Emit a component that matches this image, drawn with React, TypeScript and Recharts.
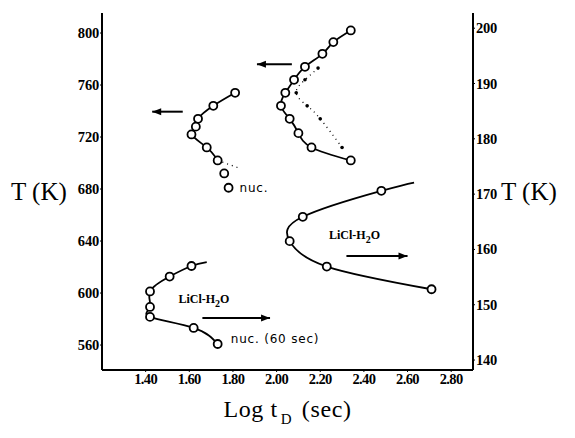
import React from 'react';
import { ComposedChart, Line, Scatter, XAxis, YAxis, ReferenceLine, ReferenceDot } from 'recharts';

// axis ticks
const xTicks = [1.4, 1.6, 1.8, 2.0, 2.2, 2.4, 2.6, 2.8];
const leftTicks = [560, 600, 640, 680, 720, 760, 800];
const rightTicks = [140, 150, 160, 170, 180, 190, 200];

// upper outer curve (left axis, K)
const outerLog = [2.34, 2.26, 2.21, 2.13, 2.08, 2.04, 2.02, 2.06, 2.1, 2.16, 2.34];
const outerT = [802, 793, 784, 774, 764, 754, 744, 734, 723, 712, 702];

// filled dots along the dotted branch
const dotLog = [2.19, 2.13, 2.09, 2.14, 2.2, 2.3];
const dotT = [773, 764, 754, 744, 734, 712];

// upper inner curve (left axis, K); last two points not joined
const innerLog = [1.81, 1.71, 1.64, 1.63, 1.61, 1.68, 1.73, 1.76, 1.78];
const innerT = [754, 744, 734, 728, 722, 712, 702, 692, 681];
const innerTail = { x: 1.83, t: 696 };

// LiCl-H2O, right-hand curve (right axis, K)
const saltRLog = [2.48, 2.12, 2.06, 2.23, 2.71];
const saltRT = [170.6, 165.9, 161.5, 156.9, 152.8];
const saltRHead = { x: 2.63, t: 172.1 };

// LiCl-H2O, left-hand curve (right axis, K)
const saltLLog = [1.61, 1.51, 1.42, 1.42, 1.42, 1.62, 1.73];
const saltLT = [157.0, 155.1, 152.4, 149.6, 147.8, 145.8, 142.9];
const saltLHead = { x: 1.68, t: 157.7 };

const arrows = [
  { axis: 'left', x1: 1.57, x2: 1.43, t: 739.5 },
  { axis: 'left', x1: 2.07, x2: 1.91, t: 776 },
  { axis: 'right', x1: 2.32, x2: 2.6, t: 158.8 },
  { axis: 'right', x1: 1.66, x2: 1.97, t: 147.6 },
];

const pts = (xs: number[], ts: number[]) => xs.map((x, i) => ({ x, t: ts[i] }));

const outer = pts(outerLog, outerT);
const dots = pts(dotLog, dotT);
const inner = pts(innerLog, innerT);
const saltR = pts(saltRLog, saltRT);
const saltL = pts(saltLLog, saltLT);

const serif = '"Liberation Serif", "DejaVu Serif", serif';
const hand = '"DejaVu Sans", sans-serif';

// bold serif tick text, anchored per axis side
const Tick = (side: 'left' | 'right' | 'bottom', fmt?: (v: number) => string) => (p: any) => {
  const v = p.payload.value;
  const label = fmt ? fmt(v) : String(v);
  const anchor = side === 'left' ? 'end' : side === 'right' ? 'start' : 'middle';
  const dy = side === 'bottom' ? 9.5 : 5;
  return (
    <text
      x={p.x}
      y={p.y + dy}
      textAnchor={anchor}
      fontSize={14.5}
      fontWeight="bold"
      fontFamily={serif}
      letterSpacing={side === 'bottom' ? -0.6 : -0.2}
      fill="#000"
    >
      {label}
    </text>
  );
};

const OpenCircle = (p: any) => (
  <circle cx={p.cx} cy={p.cy} r={4} fill="#fff" stroke="#000" strokeWidth={1.8} />
);
const SmallDot = (p: any) => <circle cx={p.cx} cy={p.cy} r={1.8} fill="#000" />;

const arrowHead = (dir: number) => (p: any) => (
  <path
    d={`M${p.cx},${p.cy} L${p.cx - dir * 9},${p.cy - 3.5} L${p.cx - dir * 9},${p.cy + 3.5} Z`}
    fill="#000"
  />
);

const note = (text: string, size: number) => (p: any) => (
  <text x={p.cx} y={p.cy + 4} fontSize={size} fontFamily={hand} fill="#000" letterSpacing={0.8}>
    {text}
  </text>
);

const saltLabel = (p: any) => (
  <text x={p.cx} y={p.cy + 4} fontSize={12} fontWeight="bold" fontFamily={serif} fill="#000">
    LiCl-H<tspan dy={4} fontSize={10}>2</tspan>
    <tspan dy={-4}>O</tspan>
  </text>
);

const XLabel = (props: any) => {
  const { x, y, width } = props.viewBox;
  return (
    <text
      x={x + width / 2}
      y={y + 47}
      textAnchor="middle"
      fontSize={24}
      fontFamily={serif}
      letterSpacing={0.6}
      fill="#000"
    >
      Log t<tspan dx={3} dy={7} fontSize={15}>D</tspan>
      <tspan dx={3} dy={-7}> (sec)</tspan>
    </text>
  );
};

export default function App() {
  return (
    <div style={{ position: 'absolute', left: 0, top: 0, background: '#fff', fontFamily: serif }}>
      <ComposedChart width={575} height={438} margin={{ top: 13, right: 0, bottom: 0, left: 0 }}>
        <XAxis
          type="number"
          dataKey="x"
          domain={[1.2, 2.9]}
          ticks={xTicks}
          allowDataOverflow
          height={68}
          tick={Tick('bottom', (v) => v.toFixed(2))}
          tickSize={2}
          tickMargin={2}
          axisLine={{ stroke: '#000', strokeWidth: 2 }}
          tickLine={{ stroke: '#000' }}
          label={<XLabel />}
        />
        <YAxis
          yAxisId="left"
          type="number"
          domain={[540.8, 815.4]}
          ticks={leftTicks}
          allowDataOverflow
          width={102}
          tick={Tick('left')}
          tickSize={2}
          tickMargin={1}
          axisLine={{ stroke: '#000', strokeWidth: 2 }}
          tickLine={{ stroke: '#000' }}
          label={{ value: 'T (K)', position: 'insideLeft', offset: 11, fontSize: 25, fontFamily: serif, fill: '#000' }}
        />
        <YAxis
          yAxisId="right"
          orientation="right"
          type="number"
          domain={[138.2, 202.75]}
          ticks={rightTicks}
          allowDataOverflow
          width={102}
          tick={Tick('right')}
          tickSize={2}
          tickMargin={1}
          axisLine={{ stroke: '#000', strokeWidth: 2 }}
          tickLine={{ stroke: '#000' }}
          label={{ value: 'T (K)', position: 'insideLeft', offset: 28, fontSize: 25, fontFamily: serif, fill: '#000' }}
        />

        <Line yAxisId="left" data={outer} dataKey="t" type="natural" stroke="#000" strokeWidth={1.8} dot={false} isAnimationActive={false} />
        <Line yAxisId="left" data={dots} dataKey="t" type="natural" stroke="#000" strokeWidth={1.3} strokeDasharray="1 4" dot={false} isAnimationActive={false} />
        <Line yAxisId="left" data={inner.slice(0, 7)} dataKey="t" type="natural" stroke="#000" strokeWidth={1.8} dot={false} isAnimationActive={false} />
        <Line yAxisId="left" data={[inner[6], innerTail]} dataKey="t" type="linear" stroke="#000" strokeWidth={1.3} strokeDasharray="1 4" dot={false} isAnimationActive={false} />
        <Line yAxisId="right" data={[saltRHead, ...saltR]} dataKey="t" type="natural" stroke="#000" strokeWidth={1.8} dot={false} isAnimationActive={false} />
        <Line yAxisId="right" data={[saltLHead, ...saltL]} dataKey="t" type="natural" stroke="#000" strokeWidth={1.8} dot={false} isAnimationActive={false} />

        <Scatter yAxisId="left" data={dots} dataKey="t" shape={SmallDot} isAnimationActive={false} />
        <Scatter yAxisId="left" data={outer} dataKey="t" shape={OpenCircle} isAnimationActive={false} />
        <Scatter yAxisId="left" data={inner} dataKey="t" shape={OpenCircle} isAnimationActive={false} />
        <Scatter yAxisId="right" data={saltR} dataKey="t" shape={OpenCircle} isAnimationActive={false} />
        <Scatter yAxisId="right" data={saltL} dataKey="t" shape={OpenCircle} isAnimationActive={false} />

        {arrows.map((a, i) => (
          <ReferenceLine
            key={`shaft-${i}`}
            yAxisId={a.axis}
            segment={[{ x: a.x1, y: a.t }, { x: a.x2, y: a.t }]}
            stroke="#000"
            strokeWidth={2}
          />
        ))}
        {arrows.map((a, i) => (
          <ReferenceDot
            key={`head-${i}`}
            yAxisId={a.axis}
            x={a.x2}
            y={a.t}
            shape={arrowHead(a.x2 > a.x1 ? 1 : -1)}
          />
        ))}

        <ReferenceDot yAxisId="left" x={1.83} y={681} shape={note('nuc.', 12)} />
        <ReferenceDot yAxisId="right" x={1.79} y={143.8} shape={note('nuc. (60 sec)', 12)} />
        <ReferenceDot yAxisId="right" x={1.55} y={151.0} shape={saltLabel} />
        <ReferenceDot yAxisId="right" x={2.24} y={162.6} shape={saltLabel} />
      </ComposedChart>
    </div>
  );
}
